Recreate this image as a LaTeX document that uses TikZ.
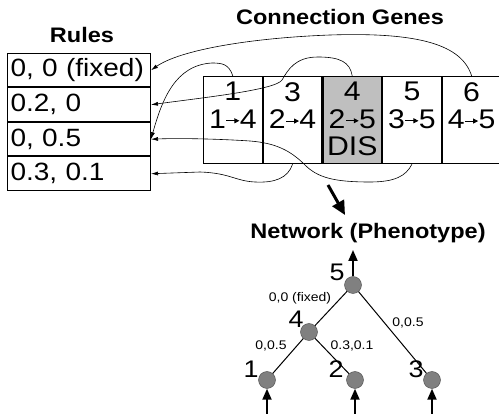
\documentclass[tikz,border=0pt]{standalone}
\usepackage{fontspec}
\setmainfont{Liberation Sans}[FakeStretch=1.12]
\usetikzlibrary{positioning,arrows.meta}

\tikzset{
  rulebox/.style={draw, line width=1pt, anchor=north west, minimum height=33.5pt,
    text width=137pt, inner xsep=3pt, align=left, font=\fontsize{25}{29}\selectfont},
  genebox/.style={draw, line width=1.2pt, anchor=north west, minimum width=58.5pt, minimum height=87pt},
  genetext/.style={inner sep=0pt, align=center, font=\fontsize{27}{27.5}\selectfont},
  title/.style={font=\fontsize{21}{25}\selectfont\bfseries},
  neuron/.style={circle, draw=black!70, fill=black!50, minimum size=17pt, inner sep=0pt},
  numlabel/.style={inner sep=0pt, font=\fontsize{24}{28}\selectfont},
  wlabel/.style={inner sep=0pt, font=\fontsize{12.5}{14}\selectfont},
  link/.style={line width=1pt},
  ptr/.style={-{Latex[length=7pt,width=4pt]}, line width=0.6pt},
  ioarrow/.style={-{Triangle[length=11pt,width=9pt]}, line width=2pt},
  maparrow/.style={-{Triangle[length=14pt,width=13pt]}, line width=3pt}
}
\newcommand{\garr}{\tikz[baseline=0pt]\draw[-{Triangle[length=5pt,width=5pt]}, line width=0.8pt] (-2pt,7.5pt) -- (11pt,7.5pt);}

\begin{document}
\begin{tikzpicture}[x=1pt,y=-1pt]
  \useasboundingbox (0,0) rectangle (499,414);

  % rules table
  \node[title] (rulestitle) at (82,35) {Rules};
  \node[rulebox] (rule1) at (7,53) {0, 0 (fixed)};
  \node[rulebox, below=0pt of rule1] (rule2) {0.2, 0};
  \node[rulebox, below=0pt of rule2] (rule3) {0, 0.5};
  \node[rulebox, below=0pt of rule3] (rule4) {0.3, 0.1};

  % connection genes
  \node[title] (genestitle) at (340,17) {Connection Genes};
  \node[genebox] (gene1) at (203,76) {};
  \node[genebox, right=0pt of gene1] (gene3) {};
  \node[genebox, right=0pt of gene3, fill=black!25] (gene4) {};
  \node[genebox, right=0pt of gene4] (gene5) {};
  \node[genebox, right=0pt of gene5] (gene6) {};
  \node[genetext, below=6pt of gene1.north] (text1) {1\\1\garr 4};
  \node[genetext, below=6pt of gene3.north] (text3) {3\\2\garr 4};
  \node[genetext, below=6pt of gene4.north] (text4) {4\\2\garr 5\\DIS};
  \node[genetext, below=6pt of gene5.north] (text5) {5\\3\garr 5};
  \node[genetext, below=6pt of gene6.north] (text6) {6\\4\garr 5};

  % pointers to the rules
  \draw[ptr] (gene6.north) .. controls (462,45) and (420,32) .. (330,35)
    .. controls (250,38) and (180,50) .. (rule1.east);
  \draw[ptr] (gene4.north) .. controls (350,62) and (340,57) .. (318,57)
    .. controls (295,57) and (288,70) .. (282,80)
    .. controls (276,90) and (200,98) .. (rule2.east);
  \draw[ptr] (gene1.north) .. controls (229,64) and (222,63) .. (212,63)
    .. controls (175,65) and (162,100) .. (rule3.east);
  \draw[ptr] (gene5.south) .. controls (406,176) and (395,182) .. (370,182)
    .. controls (335,182) and (318,178) .. (305,165)
    .. controls (290,150) and (275,143) .. (250,141)
    .. controls (220,139) and (180,138) .. (rule3.east);
  \draw[ptr] (gene3.south) .. controls (288,178) and (275,183) .. (255,182)
    .. controls (235,181) and (230,173) .. (200,172) -- (rule4.east);

  % genotype to phenotype
  \coordinate (mapfrom) at (328,185);
  \coordinate (mapto) at (345,215);
  \draw[maparrow] (mapfrom) -- (mapto);

  % network
  \node[title] (nettitle) at (368,233) {Network (Phenotype)};
  \node[neuron] (n5) at (353,285) {};
  \node[neuron] (n4) at (309,332) {};
  \node[neuron] (n1) at (267,380) {};
  \node[neuron] (n2) at (355,380) {};
  \node[neuron] (n3) at (432,380) {};
  \node[numlabel] (lab5) at (337,272) {5};
  \node[numlabel] (lab4) at (296,319) {4};
  \node[numlabel] (lab1) at (251,369) {1};
  \node[numlabel] (lab2) at (336,369) {2};
  \node[numlabel] (lab3) at (416,369) {3};

  \draw[link] (n5) -- (n4);
  \draw[link] (n4) -- (n1);
  \draw[link] (n4) -- (n2);
  \draw[link] (n5) -- (n3);

  \node[wlabel] (w45) at (300,298) {0,0 (fixed)};
  \node[wlabel] (w14) at (271,346) {0,0.5};
  \node[wlabel] (w24) at (352,346) {0.3,0.1};
  \node[wlabel] (w35) at (408,323) {0,0.5};

  \coordinate (out5) at (353,250);
  \coordinate (in1) at (267,414);
  \coordinate (in2) at (355,414);
  \coordinate (in3) at (432,414);
  \draw[ioarrow] (n5) -- (out5);
  \draw[ioarrow] (in1) -- (n1);
  \draw[ioarrow] (in2) -- (n2);
  \draw[ioarrow] (in3) -- (n3);
\end{tikzpicture}
\end{document}
